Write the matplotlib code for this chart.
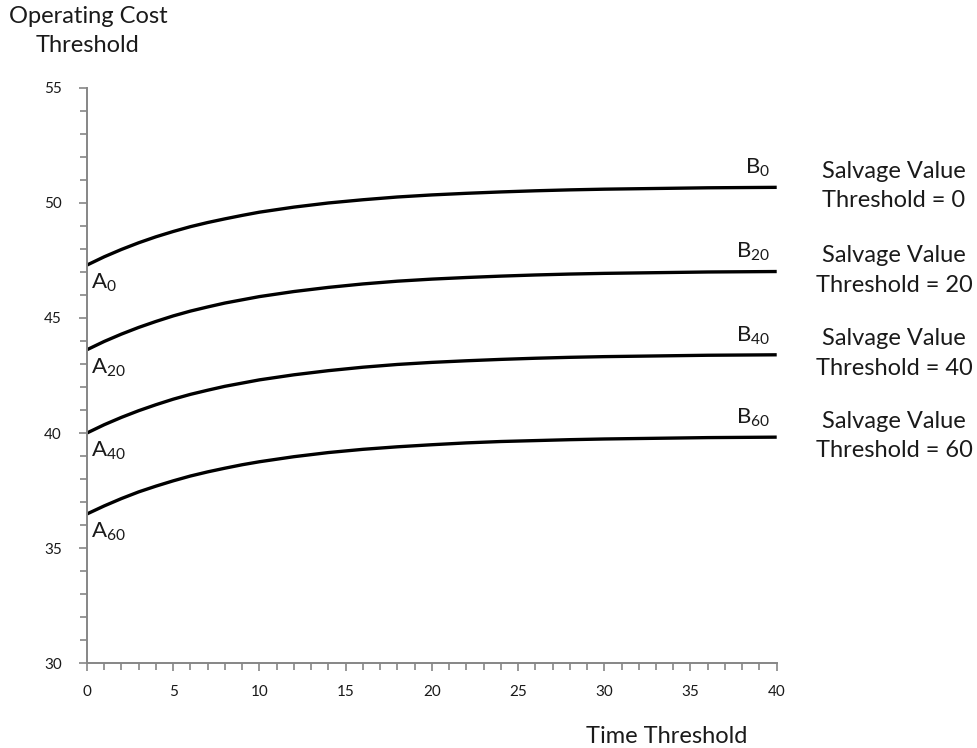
import matplotlib.pyplot as plt
from matplotlib.ticker import MultipleLocator

plt.rcParams['font.family'] = ['Lato', 'DejaVu Sans']
plt.rcParams['mathtext.default'] = 'regular'

# time threshold values
time = [0, 1, 2, 3, 4, 5, 6, 7, 8, 9, 10, 12, 14, 16, 18, 20, 22, 24, 26,
        28, 30, 32, 34, 36, 38, 40]

# operating cost threshold for each salvage value threshold
cost_sv0 = [47.30, 47.66, 47.98, 48.27, 48.53, 48.76, 48.97, 49.15, 49.31,
            49.46, 49.60, 49.82, 50.00, 50.14, 50.26, 50.35, 50.42, 50.48,
            50.53, 50.57, 50.60, 50.62, 50.64, 50.66, 50.67, 50.68]
cost_sv20 = [43.62, 43.98, 44.30, 44.59, 44.85, 45.09, 45.30, 45.48, 45.65,
             45.79, 45.93, 46.15, 46.33, 46.48, 46.60, 46.69, 46.76, 46.82,
             46.87, 46.91, 46.94, 46.96, 46.98, 47.00, 47.01, 47.02]
cost_sv40 = [40.00, 40.36, 40.68, 40.97, 41.23, 41.47, 41.68, 41.86, 42.03,
             42.17, 42.31, 42.53, 42.71, 42.86, 42.98, 43.07, 43.14, 43.20,
             43.25, 43.29, 43.32, 43.34, 43.36, 43.38, 43.39, 43.40]
cost_sv60 = [36.48, 36.83, 37.15, 37.44, 37.69, 37.92, 38.13, 38.31, 38.47,
             38.62, 38.75, 38.97, 39.15, 39.29, 39.40, 39.49, 39.57, 39.63,
             39.67, 39.71, 39.74, 39.76, 39.78, 39.80, 39.81, 39.82]

series = [cost_sv0, cost_sv20, cost_sv40, cost_sv60]
thresholds = ['0', '20', '40', '60']

fig = plt.figure(figsize=(9.77, 7.48), dpi=100)
ax = fig.add_axes([0.089, 0.1136, 0.706, 0.7688])

axis_col = '#868686'
text_col = '#1a1a1a'
big = 17

for vals, sv in zip(series, thresholds):
	ax.plot(time, vals, color='black', lw=2.4, solid_capstyle='butt')
	ax.text(0.25, vals[0] - 0.3, '$A_{%s}$' % sv, ha='left', va='top',
			fontsize=16, color=text_col)
	ax.text(39.6, vals[-1] + 0.35, '$B_{%s}$' % sv, ha='right', va='bottom',
			fontsize=16, color=text_col)
	ax.text(46.8, vals[-1] + 0.05, 'Salvage Value\nThreshold = %s' % sv,
			ha='center', va='center', fontsize=big, color=text_col,
			linespacing=1.5, clip_on=False)

ax.set_xlim(0, 40)
ax.set_ylim(30, 55)
ax.xaxis.set_major_locator(MultipleLocator(5))
ax.xaxis.set_minor_locator(MultipleLocator(1))
ax.yaxis.set_major_locator(MultipleLocator(5))
ax.yaxis.set_minor_locator(MultipleLocator(1))

for s in ['top', 'right']:
	ax.spines[s].set_visible(False)
for s in ['left', 'bottom']:
	ax.spines[s].set_color(axis_col)
	ax.spines[s].set_linewidth(1.4)

ax.tick_params(which='both', color=axis_col, width=1.2, labelsize=11,
			   labelcolor=text_col)
ax.tick_params(which='major', length=6)
ax.tick_params(which='minor', length=5)
ax.tick_params(axis='x', pad=10)
ax.tick_params(axis='y', pad=12)

fig.text(0.09, 0.992, 'Operating Cost\nThreshold', ha='center', va='top',
		 fontsize=big, color=text_col, linespacing=1.45)
fig.text(0.682, 0.002, 'Time Threshold', ha='center', va='bottom',
		 fontsize=big, color=text_col)

plt.savefig('out.png', dpi=100)
